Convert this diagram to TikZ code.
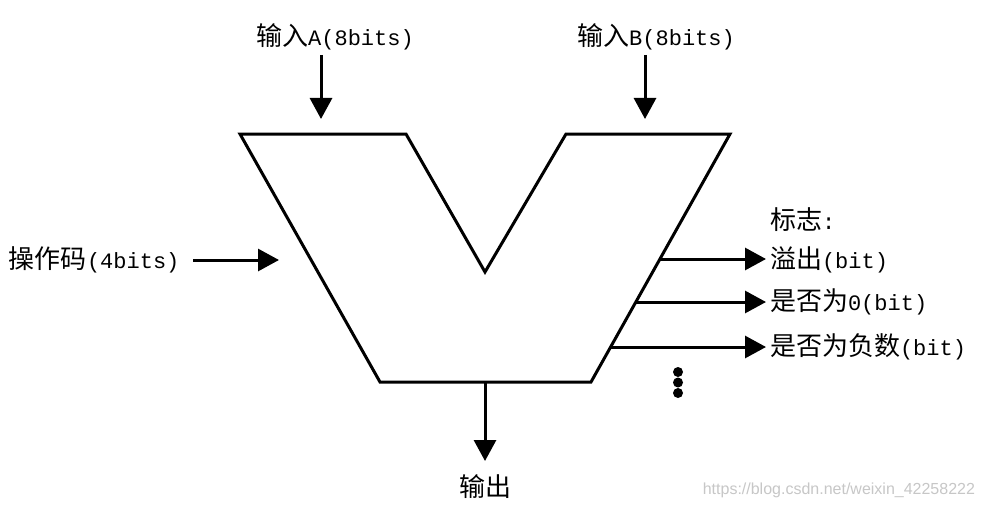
\documentclass[tikz,border=0pt]{standalone}
\usepackage{fontspec}
\setmainfont{Liberation Mono}
\newfontfamily\cjk{Noto Sans CJK SC}
\newfontfamily\wmfont{Liberation Sans}
\usetikzlibrary{arrows.meta}
\newcommand{\zh}[1]{{\cjk\fontsize{26}{28}\selectfont #1}}
\newcommand{\en}[1]{{\fontsize{22}{28}\selectfont #1}}
\tikzset{
  outline/.style={line width=3pt, line join=miter},
  arr/.style={line width=3pt, -{Triangle[length=21pt,width=22pt]}},
  lbl/.style={inner sep=0pt, outer sep=0pt},
  dot/.style={circle, fill=black, inner sep=0pt, minimum size=10pt},
}
\begin{document}
\begin{tikzpicture}[x=1pt,y=-1pt]
\useasboundingbox[fill=white] (0,0) rectangle (984,508);
% ALU outline
\draw[outline] (240,134) -- (406,134) -- (485,272) -- (566,134) -- (730,134)
  -- (591,382) -- (380,382) -- cycle;
% labels
\node[lbl] (inA) at (335,37) {\zh{输入}\en{A(8bits)}};
\node[lbl] (inB) at (656,37) {\zh{输入}\en{B(8bits)}};
\node[lbl, anchor=west] (op) at (9,260) {\zh{操作码}\en{(4bits)}};
\node[lbl, anchor=west] (flag) at (770,220) {\zh{标志}\en{:}};
\node[lbl, anchor=west] (f1) at (770,260) {\zh{溢出}\en{(bit)}};
\node[lbl, anchor=west] (f2) at (770,302) {\zh{是否为}\en{0(bit)}};
\node[lbl, anchor=west] (f3) at (770,347) {\zh{是否为负数}\en{(bit)}};
\node[lbl] (out) at (485,487) {\zh{输出}};
% coordinates
\coordinate (a1) at (321,55);  \coordinate (a2) at (321,119);
\coordinate (b1) at (645,55);  \coordinate (b2) at (645,119);
\coordinate (o1) at (193,260); \coordinate (o2) at (279,260);
\coordinate (q1) at (485,382); \coordinate (q2) at (485,461);
\coordinate (s1) at (660,259); \coordinate (t1) at (766,259);
\coordinate (s2) at (636,302); \coordinate (t2) at (766,302);
\coordinate (s3) at (611,347); \coordinate (t3) at (766,347);
% arrows
\draw[arr] (a1) -- (a2);
\draw[arr] (b1) -- (b2);
\draw[arr] (o1) -- (o2);
\draw[arr] (q1) -- (q2);
\draw[arr] (s1) -- (t1);
\draw[arr] (s2) -- (t2);
\draw[arr] (s3) -- (t3);
% dots
\node[dot] (d1) at (678,372) {};
\node[dot] (d2) at (678,382.5) {};
\node[dot] (d3) at (678,393) {};
% watermark
\node[lbl, anchor=east, text=black!22] (wm) at (975,490) {\wmfont\fontsize{16}{18}\selectfont https://blog.csdn.net/weixin\_42258222};
\end{tikzpicture}
\end{document}
